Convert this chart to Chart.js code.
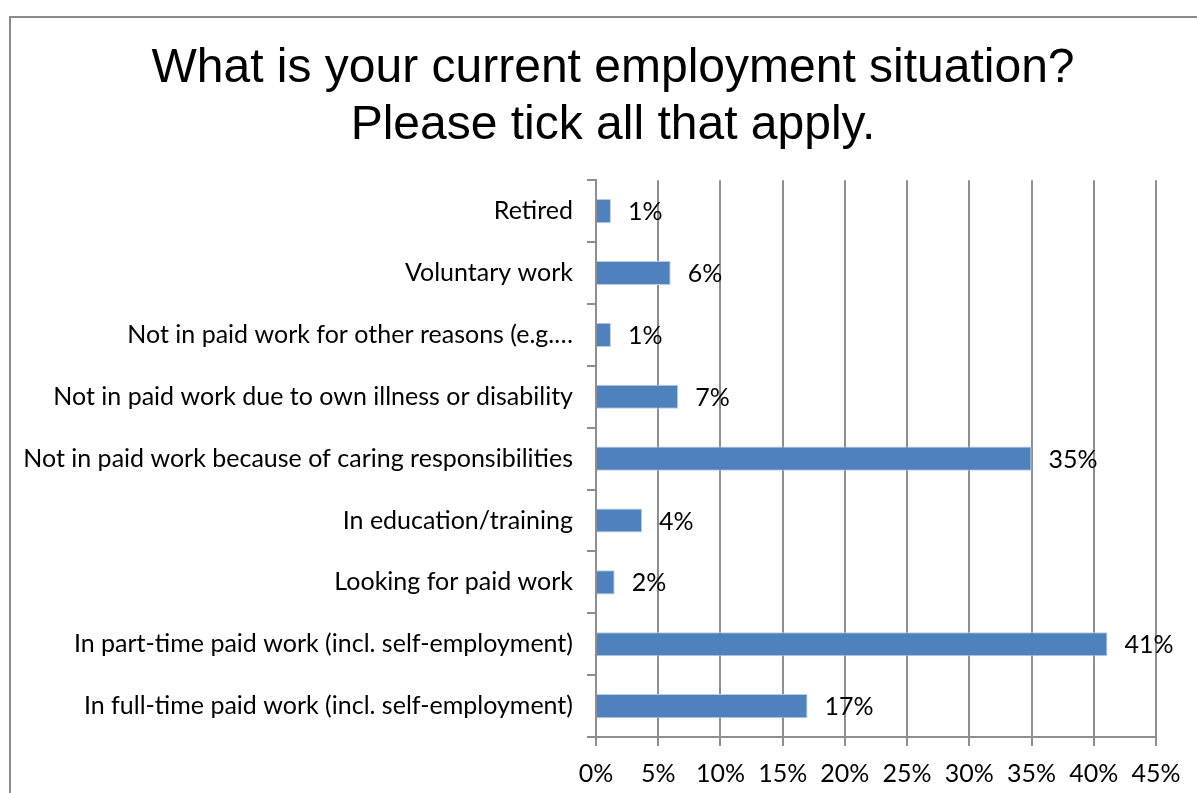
<!DOCTYPE html>
<html>
<head>
<meta charset="utf-8">
<title>Employment situation</title>
<script src="https://cdn.jsdelivr.net/npm/chart.js@4"></script>
<style>
  html, body { margin: 0; padding: 0; background: #fff; overflow: hidden; }
  #frame {
    position: absolute; left: 9px; top: 16px;
    width: 1204px; height: 790px;
    border: 2px solid #8a8a8a;
    background: #fff;
  }
  #chart { display: block; }
</style>
</head>
<body>
<div id="frame"><canvas id="chart" width="1204" height="790"></canvas></div>
<script>
// Survey answers, top row first
const categories = [
    'Retired',
    'Voluntary work',
    'Not in paid work for other reasons (e.g.\u2026',
    'Not in paid work due to own illness or disability',
    'Not in paid work because of caring responsibilities',
    'In education/training',
    'Looking for paid work',
    'In part-time paid work (incl. self-employment)',
    'In full-time paid work (incl. self-employment)'
];

// Share of respondents, in percent
const shares = [1.2, 6.0, 1.2, 6.6, 35.0, 3.7, 1.5, 41.1, 17.0];

const axisMax = 45;
const axisStep = 5;

const labelFont = { family: 'Lato, "Open Sans", sans-serif', size: 25 };
const gridGrey = '#8e8e8e';

// Percent labels just past the end of each bar
const barValueLabels = {
    id: 'barValueLabels',
    afterDatasetsDraw(chart) {
        const ctx = chart.ctx;
        const meta = chart.getDatasetMeta(0);
        ctx.save();
        ctx.font = labelFont.size + 'px ' + labelFont.family;
        ctx.fillStyle = '#000';
        ctx.textAlign = 'left';
        ctx.textBaseline = 'middle';
        meta.data.forEach(function(bar, i) {
            ctx.fillText(Math.round(shares[i]) + '%', bar.x + 17, bar.y + 1);
        });
        ctx.restore();
    }
};

new Chart(document.getElementById('chart'), {
    type: 'bar',
    data: {
        labels: categories,
        datasets: [{
            data: shares,
            backgroundColor: '#4f81bd',
            borderColor: '#b8cce4',
            borderWidth: 1,
            barPercentage: 0.39,
            categoryPercentage: 1
        }]
    },
    options: {
        indexAxis: 'y',
        responsive: false,
        animation: false,
        layout: { padding: 0 },
        plugins: {
            legend: { display: false },
            tooltip: { enabled: false },
            title: {
                display: true,
                text: ['What is your current employment situation?', 'Please tick all that apply.'],
                color: '#000',
                font: { family: '"Liberation Sans", Arial, sans-serif', size: 48, weight: 'normal', lineHeight: 1.19 },
                padding: { top: 22, bottom: 26 }
            }
        },
        scales: {
            x: {
                min: 0,
                max: axisMax,
                // keep room on the right for the last tick label without shifting the title
                afterFit: function(scale) {
                    scale.height = 71;
                    scale.paddingRight = 59;
                },
                border: { color: gridGrey, width: 2 },
                grid: { color: gridGrey, lineWidth: 2, tickLength: 9, drawTicks: true },
                ticks: {
                    stepSize: axisStep,
                    color: '#000',
                    font: labelFont,
                    padding: 13,
                    callback: function(v) { return v + '%'; }
                }
            },
            y: {
                afterFit: function(scale) { scale.width = 585; },
                border: { color: gridGrey, width: 2 },
                grid: { color: gridGrey, lineWidth: 2, offset: true, drawOnChartArea: false, tickLength: 9 },
                ticks: { color: '#000', font: labelFont, padding: 14, autoSkip: false }
            }
        }
    },
    plugins: [barValueLabels]
});
</script>
</body>
</html>
